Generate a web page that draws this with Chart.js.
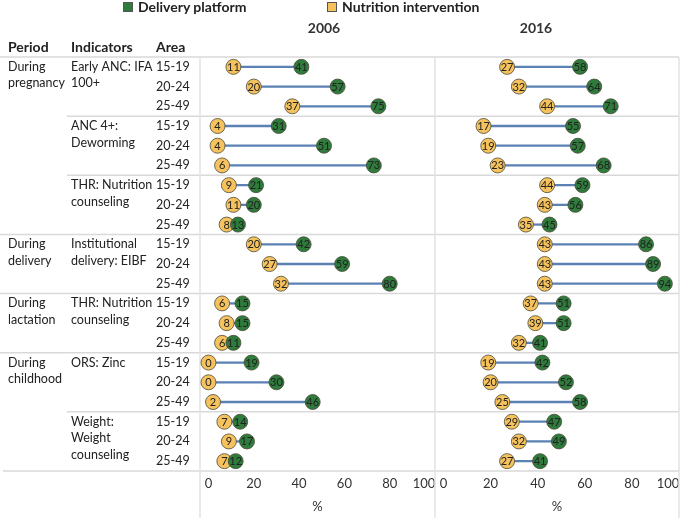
<!DOCTYPE html>
<html>
<head>
<meta charset="utf-8">
<script src="https://cdn.jsdelivr.net/npm/chart.js@4.4.0/dist/chart.umd.min.js"></script>
<style>
  body { margin: 0; background: #fff; font-family: Lato, sans-serif; }
  #wrap { position: relative; width: 681px; height: 524px; }
  #myChart { position: absolute; left: 0; top: 0; }
  .lg { position: absolute; top: -1px; font-weight: bold; font-size: 14px; color: #222; line-height: 16px; white-space: nowrap; }
  .lg span { display: inline-block; width: 8px; height: 8px; border: 1px solid #555; margin-right: 5px; }
  .yr { position: absolute; top: 19px; font-weight: bold; font-size: 14px; color: #333; transform: translateX(-50%); }
</style>
</head>
<body>
<div id="wrap">
  <canvas id="myChart" width="681" height="524"></canvas>
  <div class="lg" style="left:123px"><span style="background:#2e7b3c"></span>Delivery platform</div>
  <div class="lg" style="left:327px"><span style="background:#f6c25d"></span>Nutrition intervention</div>
  <div class="yr" style="left:324px">2006</div>
  <div class="yr" style="left:536px">2016</div>
</div>
<script>
// table columns (left side)
var periodLabels = ['During\npregnancy', 'During\ndelivery', 'During\nlactation', 'During\nchildhood'];
var periodRows = [9, 3, 3, 6];
var indicatorLabels = ['Early ANC: IFA\n100+', 'ANC 4+:\nDeworming', 'THR: Nutrition\ncounseling',
    'Institutional\ndelivery: EIBF', 'THR: Nutrition\ncounseling', 'ORS: Zinc', 'Weight:\nWeight\ncounseling'];
var indicatorRows = [3, 3, 3, 3, 3, 3, 3];
var areas = ['15-19', '20-24', '25-49', '15-19', '20-24', '25-49', '15-19', '20-24', '25-49',
    '15-19', '20-24', '25-49', '15-19', '20-24', '25-49', '15-19', '20-24', '25-49',
    '15-19', '20-24', '25-49'];

// values (%)
var delivery2006 = [41, 57, 75, 31, 51, 73, 21, 20, 13, 42, 59, 80, 15, 15, 11, 19, 30, 46, 14, 17, 12];
var nutrition2006 = [11, 20, 37, 4, 4, 6, 9, 11, 8, 20, 27, 32, 6, 8, 6, 0, 0, 2, 7, 9, 7];
var delivery2016 = [58, 64, 71, 55, 57, 68, 59, 56, 45, 86, 89, 94, 51, 51, 41, 42, 52, 58, 47, 49, 41];
var nutrition2016 = [27, 32, 44, 17, 19, 23, 44, 43, 35, 43, 43, 43, 37, 39, 32, 19, 20, 25, 29, 32, 27];

var greenC = '#2e7b3c';
var yellowC = '#f6c25d';
var rows = areas.map(function (a, i) { return i + ' ' + a; });

function gap(nut, del) {
    return nut.map(function (v, i) { return [v, del[i]]; });
}

function bar(data, axis) {
    return {
        type: 'bar', data: data, xAxisID: axis, yAxisID: 'y', indexAxis: 'y',
        backgroundColor: '#5b80b4', borderWidth: 0, barThickness: 1.6, grouped: false, order: 3
    };
}

function dots(label, data, axis, color, order) {
    return {
        type: 'line', label: label, data: data, xAxisID: axis, yAxisID: 'y', indexAxis: 'y',
        showLine: false, pointRadius: 7.5, pointHoverRadius: 7.5,
        pointBackgroundColor: color, pointBorderColor: '#4a4a3a', pointBorderWidth: 0.8, order: order
    };
}

function panelAxis(min, weight) {
    return {
        type: 'linear', position: 'bottom', stack: 'panels', stackWeight: weight,
        min: min, max: 100,
        grid: { display: false, drawTicks: false },
        border: { display: false },
        ticks: {
            stepSize: 20, includeBounds: false, padding: 5, maxRotation: 0, minRotation: 0, autoSkip: false,
            color: '#333', font: { family: 'Lato', size: 13 }
        },
        title: { display: true, text: '%', color: '#333', font: { family: 'Lato', size: 13 }, padding: { top: 0, bottom: 9 } },
        afterFit: function (s) {
            s.height = 53;
            s.paddingLeft = 0;
            s.paddingRight = 0;
        }
    };
}

var tableFrame = {
    id: 'tableFrame',
    beforeDraw: function (chart) {
        // pull the "100" labels inside the panel like the original
        ['x1', 'x2'].forEach(function (id) {
            var items = chart.scales[id].getLabelItems();
            var last = items[items.length - 1];
            if (last && !last._moved) {
                last.options.translation[0] -= 11;
                last._moved = true;
            }
        });
    },
    beforeDatasetsDraw: function (chart) {
        var ctx = chart.ctx, a = chart.chartArea;
        var band = (a.bottom - a.top) / rows.length;
        var right = chart.scales.x2.right;
        var fullStarts = [0, rows.length];
        var s = 0;
        periodRows.forEach(function (n) { s += n; fullStarts.push(s); });
        ctx.save();
        ctx.strokeStyle = '#d9d9d9';
        ctx.lineWidth = 1.5;
        ctx.beginPath();
        s = 0;
        indicatorRows.forEach(function (n) {
            if (fullStarts.indexOf(s) < 0) {
                ctx.moveTo(67, a.top + s * band);
                ctx.lineTo(right, a.top + s * band);
            }
            s += n;
        });
        fullStarts.forEach(function (r) {
            ctx.moveTo(r === rows.length ? 3 : 0, a.top + r * band);
            ctx.lineTo(right, a.top + r * band);
        });
        ctx.stroke();
        ctx.strokeStyle = '#e2e2e2';
        ctx.beginPath();
        [a.left, chart.scales.x1.right, right].forEach(function (x) {
            ctx.moveTo(x, a.top);
            ctx.lineTo(x, chart.height - 6);
        });
        ctx.stroke();
        ctx.restore();
    },
    afterDatasetsDraw: function (chart) {
        var ctx = chart.ctx;
        ctx.save();
        ctx.fillStyle = '#222';
        ctx.font = '11px Lato';
        ctx.textAlign = 'center';
        ctx.textBaseline = 'middle';
        chart.data.datasets.forEach(function (ds, i) {
            if (ds.type !== 'line') return;
            chart.getDatasetMeta(i).data.forEach(function (el, j) {
                ctx.fillText(String(ds.data[j]), el.x, el.y + 0.5);
            });
        });
        ctx.restore();
    },
    afterDraw: function (chart) {
        var ctx = chart.ctx, y = chart.scales.y, top = chart.chartArea.top;
        var lh = 16.6;
        ctx.save();
        ctx.fillStyle = '#222';
        ctx.textBaseline = 'middle';
        ctx.font = 'bold 14px Lato';
        ctx.fillText('Period', 8, top - 10);
        ctx.fillText('Indicators', 71, top - 10);
        ctx.fillText('Area', 156, top - 10);
        ctx.font = '12.5px Lato';
        var r = 0;
        periodLabels.forEach(function (t, k) {
            t.split('\n').forEach(function (line, j) {
                ctx.fillText(line, 8, y.getPixelForValue(r) + j * lh);
            });
            r += periodRows[k];
        });
        r = 0;
        indicatorLabels.forEach(function (t, k) {
            t.split('\n').forEach(function (line, j) {
                ctx.fillText(line, 71, y.getPixelForValue(r) + j * lh, 83);
            });
            r += indicatorRows[k];
        });
        areas.forEach(function (t, i) {
            ctx.fillText(t, 156, y.getPixelForValue(i));
        });
        ctx.restore();
    }
};

var ctx = document.getElementById('myChart').getContext('2d');
var myChart = new Chart(ctx, {
    type: 'bar',
    data: {
        labels: rows,
        datasets: [
            bar(gap(nutrition2006, delivery2006), 'x1'),
            bar(gap(nutrition2016, delivery2016), 'x2'),
            dots('Nutrition intervention', nutrition2006, 'x1', yellowC, 2),
            dots('Nutrition intervention', nutrition2016, 'x2', yellowC, 2),
            dots('Delivery platform', delivery2006, 'x1', greenC, 1),
            dots('Delivery platform', delivery2016, 'x2', greenC, 1)
        ]
    },
    options: {
        indexAxis: 'y',
        responsive: false,
        animation: false,
        layout: { autoPadding: false, padding: { left: 200, right: 2, top: 57, bottom: 0 } },
        plugins: {
            legend: { display: false },
            tooltip: { enabled: false }
        },
        scales: {
            y: { type: 'category', offset: true, display: false },
            x1: panelAxis(-3.75, 235),
            x2: panelAxis(-3.61, 244)
        }
    },
    plugins: [tableFrame]
});
</script>
</body>
</html>
